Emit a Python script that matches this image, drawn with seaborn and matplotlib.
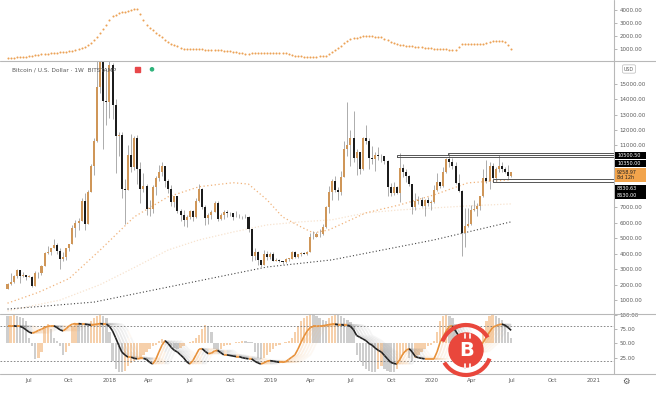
import matplotlib
matplotlib.use("Agg")
import matplotlib.pyplot as plt
import matplotlib.dates as mdates
from matplotlib.lines import Line2D
from matplotlib.patches import Rectangle, Circle, Arc
from matplotlib.collections import LineCollection
from matplotlib.ticker import FuncFormatter
import seaborn as sns
import pandas as pd
import numpy as np

# ---------------- data (weekly candles, BITSTAMP BTC/USD) ----------------
first_week = "2017-05-15"
first_open = 1720

close = [2050, 2190, 2530, 2960, 2580, 2590, 2500, 2510, 1920, 2730, 2740, 3230, 4060, 4100, 4340, 4580,
         4200, 3680, 3780, 4360, 4600, 5680, 6000, 6140, 7380, 5900, 8000, 9700, 11300, 14800, 18900, 13900, 13800,
         16200, 13600, 11600, 11700, 8200, 8100, 10400, 9600, 11500, 9500, 8200, 8400, 6900, 6900, 8300, 8900,
         9300, 9650, 8700, 8200, 7350, 7700, 6750, 6500, 6150, 6350, 6750, 6350, 7400, 8200, 7000, 6300, 6500,
         6700, 7300, 6250, 6500, 6700, 6600, 6600, 6350, 6400, 6350, 6400, 6350, 5600, 3850, 4100, 3600, 3250,
         4000, 3800,
         4000, 3550, 3600, 3550, 3450, 3650, 3650, 4100, 3800, 3950, 4050, 4000, 4100, 5050, 5050, 5300, 5250,
         5750, 7000, 8000, 8700, 8100, 8000, 8950, 10800, 11000, 11500, 10200, 10550, 9500, 11450, 11300, 10200,
         10150, 10400, 10300, 10300, 10000, 8300, 7900, 8300, 7950, 9550, 9300, 9050, 8500, 7000, 7400, 7500,
         7100, 7500, 7250,
         7350, 8100, 8650, 8350, 9300, 10150, 9900, 9650, 8550, 8050, 5350, 5800, 5900, 6800, 6900, 7100, 7700,
         8900, 8700, 9650, 8900, 9450, 9650, 9450, 9300, 9000, 9259]

high = [2100, 2760, 2600, 2980, 2900, 2800, 2600, 2650, 2530, 2900, 2800, 3300, 4100, 4480, 4400, 4980,
        4700, 4400, 4100, 4400, 4650, 5860, 6200, 6300, 7600, 7900, 8100, 9800, 11500, 17200, 19600, 19000, 16000,
        17250, 16300, 14000, 11900, 11900, 8800, 11000, 11750, 11600, 11700, 9900, 9200, 8500, 7500, 8450, 9000,
        9750, 9950, 9650, 8800, 8450, 7750, 7750, 6900, 6800, 6500, 6800, 6800, 7600, 8500, 8250, 7150, 6600,
        6800, 7400, 7400, 6600, 6850, 6800, 6700, 6650, 6750, 6550, 6450, 6550, 6450, 5600, 4400, 4150, 3600,
        4250, 4200,
        4100, 4100, 3750, 3650, 3550, 3700, 3700, 4200, 4150, 4000, 4100, 4100, 4150, 5350, 5450, 5400, 5600,
        5900, 7100, 8350, 8800, 9000, 8300, 9350, 11300, 13800, 12000, 13200, 10800, 10600, 11550, 12300, 11450,
        10950, 10600, 10900, 10450, 10300, 10050, 8550, 8650, 8400, 10500, 9800, 9500, 9100, 8500, 7900, 7700,
        7650, 7550, 7650,
        7500, 8450, 9200, 8650, 9600, 10200, 10500, 10200, 9950, 9180, 8100, 6950, 6950, 7150, 7450, 7300, 7750,
        9450, 10050, 9900, 9850, 9600, 10400, 9950, 9600, 9750, 9300]

low = [1700, 1950, 2100, 2460, 2100, 2480, 2300, 2470, 1830, 1900, 2450, 2650, 3200, 3950, 3900, 4340,
       4000, 2980, 3500, 3600, 4150, 4600, 5100, 5500, 6100, 5500, 5900, 8000, 9100, 11200, 14400, 10800, 12300,
       12800, 12700, 9200, 10300, 7600, 5900, 8100, 9300, 9400, 8500, 7300, 8000, 6500, 6450, 6600, 7800,
       8700, 9000, 8300, 7950, 7100, 7050, 6650, 6100, 5800, 5750, 6250, 6100, 6300, 7350, 6900, 5880, 5900,
       6250, 6700, 6100, 6150, 6250, 6400, 6450, 6200, 6350, 6300, 6250, 6300, 5400, 3500, 3600, 3300, 3150,
       3250, 3600,
       3650, 3500, 3500, 3450, 3350, 3400, 3550, 3650, 3700, 3700, 3850, 3950, 3900, 4100, 4950, 5050, 5050,
       5200, 5650, 6650, 7500, 8000, 7450, 7800, 8950, 10300, 9700, 9900, 9100, 9150, 9400, 11100, 9500,
       9800, 9350, 10050, 9900, 9800, 7750, 7750, 7800, 7850, 7350, 8950, 8650, 8400, 6550, 6850, 7200,
       7000, 6450, 7100,
       6850, 7300, 8050, 8250, 8300, 9200, 9600, 9450, 8500, 8000, 3850, 4450, 5700, 5850, 6750, 6450, 6800,
       7650, 8550, 8200, 8800, 8650, 9250, 9250, 9200, 8850, 8950]

# top pane (orange dotted study)
top_study = [300, 316, 330, 350, 370, 390, 410, 440, 470, 510,
             545, 580, 605, 630, 660, 690, 715, 740, 760, 790,
             830, 880, 940, 1010, 1080, 1160, 1280, 1450, 1680, 1950,
             2250, 2560, 2870, 3200, 3530, 3650, 3740, 3810, 3870, 3930,
             3990, 4050, 4100, 3700, 3250, 2870, 2650, 2450, 2260, 2080,
             1900, 1730, 1570, 1420, 1300, 1200, 1110, 1030, 1010, 1000,
             990, 980, 970, 965, 960, 955, 950, 930, 910, 890,
             870, 855, 840, 800, 760, 720, 680, 630, 650, 670,
             690, 700, 710, 710, 700, 700, 690, 690, 685, 680,
             680, 620, 560, 500, 470, 440, 410, 390, 370, 390,
             410, 440, 470, 500, 620, 760, 900, 1080, 1260, 1440,
             1620, 1760, 1820, 1880, 1940, 1980, 2000, 1990, 1970, 1950,
             1920, 1900, 1800, 1680, 1550, 1450, 1370, 1330, 1290, 1260,
             1230, 1210, 1190, 1170, 1140, 1110, 1080, 1060, 1040, 1030,
             1010, 990, 970, 960, 955, 950, 1150, 1350, 1420, 1420,
             1420, 1420, 1420, 1420, 1420, 1480, 1540, 1590, 1630, 1610,
             1580, 1550, 1300, 1030]

# moving averages read at a few weeks (week index, value)
ma50_weeks = [0, 10, 20, 30, 41, 52, 62, 73, 78, 84, 89, 95, 99, 104, 116, 127, 138, 149, 154, 163]
ma50_vals = [800, 1500, 2400, 4240, 6380, 7680, 8330, 8590, 8500, 7480, 6380, 5730, 5340, 5540, 6640,
             7160, 7800, 8580, 8650, 8780]
ma100_weeks = [0, 17, 30, 41, 52, 62, 73, 84, 95, 105, 116, 127, 138, 149, 163]
ma100_vals = [300, 1000, 2000, 3100, 4240, 4890, 5400, 5860, 6060, 6190, 6640, 6830, 6960, 7090, 7220]
ma200_weeks = [0, 28, 84, 105, 138, 163]
ma200_vals = [420, 870, 3140, 3600, 4890, 6060]

# lower pane oscillator
osc = [80, 80, 81, 80, 80, 78, 74, 70, 68, 70,
       73, 75, 78, 80, 81, 81, 78, 74, 72, 76,
       81, 84, 85, 85, 84, 84, 83, 82, 83, 84,
       85, 84, 84, 80, 72, 60, 47, 35, 30, 26,
       26, 24, 23, 24, 24, 22, 17, 14, 22, 35,
       47, 55, 50, 43, 38, 35, 30, 25, 18, 14,
       20, 30, 40, 41, 36, 32, 33, 37, 38, 34,
       30, 30, 29, 28, 27, 27, 25, 24, 23, 23,
       19, 16, 14, 16, 19, 20, 19, 18, 17, 17,
       18, 22, 26, 30, 40, 52, 63, 72, 78, 80,
       80, 81, 81, 82, 83, 84, 84, 83, 83, 82,
       82, 80, 74, 64, 61, 58, 55, 50, 47, 42,
       38, 35, 29, 23, 17, 15, 14, 22, 32, 38,
       41, 35, 27, 25, 24, 23, 23, 23, 23, 35,
       52, 62, 72, 80, 81, 72, 64, 50, 40, 36,
       35, 37, 42, 47, 52, 62, 70, 78, 81, 83,
       84, 82, 78, 73]
osc_hist = [98, 99, 100, 99, 97, 95, 90, 60, 45, 22,
            25, 35, 80, 85, 75, 60, 55, 45, 30, 35,
            45, 80, 86, 86, 84, 82, 80, 90, 95, 98,
            100, 98, 95, 70, 20, 5, 0, 0, 2, 10,
            15, 20, 22, 25, 30, 35, 40, 45, 48, 55,
            58, 56, 52, 45, 42, 40, 42, 45, 50, 52,
            55, 60, 65, 75, 83, 80, 70, 40, 35, 40,
            45, 47, 48, 50, 52, 53, 55, 54, 53, 52,
            35, 25, 22, 25, 30, 35, 40, 45, 48, 50,
            52, 55, 60, 70, 80, 90, 95, 98, 100, 100,
            98, 95, 92, 90, 95, 98, 100, 100, 98, 95,
            92, 88, 80, 30, 20, 10, 5, 2, 0, 0,
            5, 10, 5, 2, 0, 0, 5, 20, 30, 35,
            25, 20, 25, 30, 35, 40, 45, 48, 55, 70,
            90, 98, 100, 98, 95, 85, 30, 10, 5, 10,
            20, 30, 40, 45, 75, 90, 98, 100, 98, 95,
            92, 85, 70, 60]

# drawn rectangles: start date, bottom, top
boxes = [("2019-10-14", 10250, 10350), ("2020-02-06", 10350, 10500), ("2020-05-19", 8630, 8830)]
# labelled price levels on the right scale (the plain ticks under the tags are hidden)
main_ticks = [1000, 2000, 3000, 4000, 5000, 6000, 7000, 11000, 12000, 13000, 14000, 15000]
# axis tags: label, top pixel row, bottom pixel row
price_tags = [("10500.50", 152, 159), ("10350.00", 159.5, 166.5), ("8830.63", 184.5, 191.5),
              ("8630.00", 192, 199)]
last_tag = ("9258.97\n8d 12h", 168, 182)

month_ticks = ["2017-07-01", "2017-10-01", "2018-01-01", "2018-04-01", "2018-07-01", "2018-10-01",
               "2019-01-01", "2019-04-01", "2019-07-01", "2019-10-01", "2020-01-01", "2020-04-01",
               "2020-07-01", "2020-10-01", "2021-01-01"]
month_labels = ["Jul", "Oct", "2018", "Apr", "Jul", "Oct", "2019", "Apr", "Jul", "Oct", "2020", "Apr",
                "Jul", "Oct", "2021"]

# ---------------- figure ----------------
sns.set_style("white")
plt.rcParams["font.family"] = ["DejaVu Sans"]

UP = "#cf9658"
DOWN = "#1c1c1c"
WICK = "#8c8c8c"
LINE = "#b8b8b8"
TXT = "#5a5a5a"
ORANGE = "#e8913a"

W, H, R = 656, 394, 614
fx = lambda px: px / W
fy = lambda py: 1 - py / H

fig = plt.figure(figsize=(W / 100, H / 100), dpi=100)
ax_top = fig.add_axes([0, fy(61), fx(R), 61 / H])
ax_main = fig.add_axes([0, fy(314), fx(R), (314 - 61) / H], sharex=ax_top)
ax_osc = fig.add_axes([0, fy(374), fx(R), (374 - 314) / H], sharex=ax_top)

weeks = pd.date_range(first_week, periods=len(close), freq="7D")
xs = mdates.date2num(weeks)

# top pane
sns.scatterplot(x=weeks, y=top_study, ax=ax_top, s=2.2, color="#eba257", linewidth=0, legend=False)
ax_top.set_ylim(80, 4770)
ax_top.set_yticks([1000, 2000, 3000, 4000])

# candles
o = np.array([first_open] + close[:-1], float)
c = np.array(close, float)
h = np.array(high, float)
l = np.array(low, float)
up = c >= o
ax_main.vlines(weeks, l, h, color=WICK, lw=0.5, zorder=2)
ax_main.bar(weeks, np.maximum(np.abs(c - o), 40), bottom=np.minimum(o, c), width=4.6,
            color=np.where(up, UP, DOWN), linewidth=0, zorder=3)

sns.lineplot(x=weeks[ma100_weeks], y=ma100_vals, ax=ax_main, color="#f7e3cf", lw=0.9,
             linestyle=(0, (1, 1.5)), zorder=1)
sns.lineplot(x=weeks[ma50_weeks], y=ma50_vals, ax=ax_main, color="#f0b27a", lw=0.9,
             linestyle=(0, (1, 2)), zorder=1)
sns.lineplot(x=weeks[ma200_weeks], y=ma200_vals, ax=ax_main, color="#444444", lw=0.8,
             linestyle=(0, (1, 2)), zorder=1)

x_end = mdates.date2num(pd.Timestamp("2021-06-01"))
for start, lo, hi in boxes:
    s = mdates.date2num(pd.Timestamp(start))
    ax_main.add_patch(Rectangle((s, lo), x_end - s, hi - lo, fill=False, ec="#555555", lw=0.7, zorder=4))

ax_main.set_ylim(100, 16460)
ax_main.set_yticks(main_ticks)

# oscillator pane
osc_a = np.array(osc, float)
hist_a = np.array(osc_hist, float)
rising_h = np.r_[False, np.diff(hist_a) > 0]
ax_osc.bar(weeks, hist_a - 50, bottom=50, width=5.2, linewidth=0, alpha=0.8,
           color=np.where(rising_h, "#f4c596", "#c2c2c2"), zorder=1)
for lvl in (80, 20):
    ax_osc.axhline(lvl, color="#777777", lw=0.6, ls=(0, (2, 2)), zorder=2)

seg_col = np.where(np.diff(osc_a) >= 0, ORANGE, "#222222")
for lag, alpha in ((5, 0.08), (4, 0.11), (3, 0.14), (2, 0.18), (1, 0.25)):
    lagged = np.r_[np.repeat(osc_a[0], lag), osc_a[:-lag]]
    pts = np.column_stack([xs, lagged])
    segs = np.stack([pts[:-1], pts[1:]], axis=1)
    fade = np.where(seg_col == ORANGE, "#f0b070", "#8a8a8a")
    ax_osc.add_collection(LineCollection(segs, colors=fade, linewidths=1.3, alpha=alpha, zorder=3))
pts = np.column_stack([xs, osc_a])
segs = np.stack([pts[:-1], pts[1:]], axis=1)
ax_osc.add_collection(LineCollection(segs, colors=seg_col, linewidths=1.2, zorder=4))
ax_osc.set_ylim(-3.5, 101.7)
ax_osc.set_yticks([25, 50, 75, 100])

# axes styling
fmt = FuncFormatter(lambda v, p: f"{v:.2f}")
for ax in (ax_top, ax_main, ax_osc):
    ax.yaxis.tick_right()
    ax.yaxis.set_major_formatter(fmt)
    ax.tick_params(axis="y", direction="out", length=2, width=0.5, color="#999999",
                   labelsize=4, labelcolor=TXT, pad=2)
    for sp in ax.spines.values():
        sp.set_visible(False)
    ax.set_xlabel("")
    ax.set_ylabel("")
    ax.set_facecolor("white")
ax_top.tick_params(axis="x", labelbottom=False, length=0)
ax_main.tick_params(axis="x", labelbottom=False, length=0)
ax_osc.set_xlim(pd.Timestamp("2017-04-28"), pd.Timestamp("2021-02-17"))
ax_osc.set_xticks(pd.to_datetime(month_ticks))
ax_osc.set_xticklabels(month_labels)
ax_osc.tick_params(axis="x", length=0, labelsize=4, labelcolor=TXT, pad=3)

# pane separators
for y in (61, 314, 374):
    fig.add_artist(Line2D([0, 1], [fy(y), fy(y)], color=LINE, lw=0.8))
fig.add_artist(Line2D([fx(R), fx(R)], [fy(0), fy(374)], color=LINE, lw=0.8))

# overlay for tags, header text, icons and watermark
ov = fig.add_axes([0, 0, 1, 1], zorder=10)
ov.set_xlim(0, W)
ov.set_ylim(H, 0)
ov.axis("off")
ov.patch.set_alpha(0)

for lab, y0, y1 in price_tags:
    ov.add_patch(Rectangle((615, y0), 31, y1 - y0, color="black", lw=0))
    ov.text(617, (y0 + y1) / 2, lab, fontsize=3.5, color="white", va="center", ha="left")
ov.add_patch(Rectangle((615, last_tag[1]), 31, last_tag[2] - last_tag[1], color="#f2a44c", lw=0))
ov.text(617, (last_tag[1] + last_tag[2]) / 2, last_tag[0], fontsize=3.5, color="#222222",
        va="center", ha="left", linespacing=1.0)

ov.text(12, 70, "Bitcoin / U.S. Dollar · 1W  BITSTAMP", fontsize=4.2, color=TXT, va="center", ha="left")
ov.add_patch(Rectangle((135, 67), 4.5, 4.5, color="#e8474a"))
ov.add_patch(Circle((152, 69.3), 1.6, color="#2fb37b"))
ov.text(629, 69, "USD", fontsize=3.4, color=TXT, ha="center", va="center",
        bbox=dict(boxstyle="round,pad=0.35", fc="white", ec="#bbbbbb", lw=0.5))
ov.text(626, 381, "\u2699", fontsize=6, color="#555555", ha="center", va="center")

red = "#e9473c"
ov.add_patch(Circle((466, 350), 17, color=red))
ov.add_patch(Arc((466, 350), 50, 50, theta1=200, theta2=330, lw=3.0, color=red))
ov.add_patch(Arc((466, 350), 50, 50, theta1=20, theta2=150, lw=3.0, color=red))
ov.text(467, 351, "B", fontsize=14, fontweight="bold", color="white", ha="center", va="center")
ov.plot([465, 465], [334, 338], color="white", lw=1.2)
ov.plot([470, 470], [334, 338], color="white", lw=1.2)
ov.plot([465, 465], [364, 368], color="white", lw=1.2)
ov.plot([470, 470], [364, 368], color="white", lw=1.2)

plt.savefig("out.png", dpi=100)
plt.close(fig)
